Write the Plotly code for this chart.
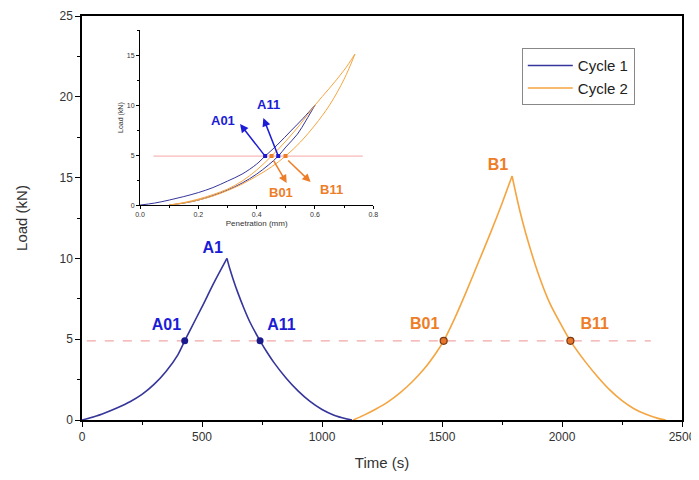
import plotly.graph_objects as go

# ---------------- main chart data ----------------
c1_time = [0, 50, 100, 150, 200, 250, 300, 350, 400, 428, 450, 500, 550, 604,
           615, 630, 650, 675, 700, 742, 775, 800, 850, 900, 950, 1000, 1050, 1100, 1125]
c1_load = [0, 0.2, 0.47, 0.78, 1.13, 1.58, 2.2, 3.0, 4.05, 4.9, 5.55, 7.0, 8.5, 10.0,
           9.4, 8.7, 7.85, 6.9, 6.05, 4.9, 4.1, 3.55, 2.6, 1.8, 1.15, 0.65, 0.3, 0.08, 0]

c2_time = [1130, 1175, 1225, 1275, 1325, 1375, 1425, 1475, 1507, 1550, 1600, 1650, 1700, 1750, 1792,
           1805, 1825, 1850, 1900, 1950, 2000, 2035, 2100, 2150, 2200, 2250, 2300, 2350, 2400, 2432]
c2_load = [0, 0.3, 0.68, 1.12, 1.68, 2.35, 3.15, 4.15, 4.9, 6.2, 7.9, 9.7, 11.5, 13.4, 15.1,
           14.2, 12.9, 11.5, 9.1, 7.2, 5.8, 4.9, 3.55, 2.65, 1.85, 1.2, 0.7, 0.35, 0.1, 0]

ref_time = [20, 2370]
ref_load = [4.9, 4.9]

a_pts_time = [428, 742]
a_pts_load = [4.9, 4.9]
b_pts_time = [1507, 2035]
b_pts_load = [4.9, 4.9]

a_lbl_text = ["A1", "A01", "A11"]
a_lbl_time = [545, 352, 831]
a_lbl_load = [10.6, 5.8, 5.8]
b_lbl_text = ["B1", "B01", "B11"]
b_lbl_time = [1733, 1428, 2136]
b_lbl_load = [15.7, 5.9, 5.9]

# ---------------- inset data ----------------
in_c1_load_pen = [0, 0.05, 0.1, 0.15, 0.2, 0.25, 0.3, 0.35, 0.4, 0.429, 0.47, 0.52, 0.56, 0.6]
in_c1_load_val = [0, 0.2, 0.5, 0.85, 1.25, 1.75, 2.4, 3.1, 4.1, 4.9, 6.0, 7.5, 8.7, 10.0]
in_c1_unl_pen = [0.6, 0.57, 0.54, 0.5, 0.474, 0.44, 0.4, 0.35, 0.3, 0.25, 0.2, 0.15, 0.1]
in_c1_unl_val = [10.0, 8.5, 7.1, 5.8, 4.9, 4.0, 3.1, 2.2, 1.5, 0.95, 0.5, 0.2, 0]

in_c2_load_pen = [0.1, 0.15, 0.2, 0.25, 0.3, 0.35, 0.4, 0.451, 0.5, 0.55, 0.6, 0.65, 0.7, 0.737]
in_c2_load_val = [0, 0.25, 0.6, 1.05, 1.6, 2.4, 3.5, 4.9, 6.4, 8.1, 10.0, 11.7, 13.5, 15.1]
in_c2_unl_pen = [0.737, 0.7, 0.65, 0.6, 0.55, 0.499, 0.45, 0.4, 0.35, 0.3, 0.25, 0.2, 0.15, 0.1]
in_c2_unl_val = [15.1, 12.6, 10.0, 8.0, 6.3, 4.9, 3.8, 2.9, 2.1, 1.45, 0.9, 0.5, 0.2, 0]

in_ref_pen = [0.046, 0.764]
in_ref_val = [4.9, 4.9]

in_a_pen = [0.429, 0.474]
in_a_val = [4.9, 4.9]
in_b_pen = [0.451, 0.499]
in_b_val = [4.9, 4.9]

# arrows: tail (dot) -> head, and label positions
in_arrow_names = ["A01", "A11", "B01", "B11"]
in_arrow_tail_pen = [0.429, 0.474, 0.455, 0.503]
in_arrow_tail_val = [4.9, 4.9, 4.6, 4.6]
in_arrow_head_pen = [0.343, 0.423, 0.503, 0.585]
in_arrow_head_val = [8.1, 8.7, 2.2, 2.3]
in_label_pen = [0.283, 0.44, 0.483, 0.656]
in_label_val = [8.5, 10.1, 1.3, 1.6]

C1 = "#35359b"
C2 = "#f5a540"
A_TXT = "#1c1cd6"
B_TXT = "#ee7d28"
REF = "#f4a6a6"

fig = go.Figure()

fig.add_trace(go.Scatter(x=ref_time, y=ref_load, mode="lines",
                         line=dict(color=REF, width=1.3, dash="dash"), showlegend=False))


def add_cycle(times, loads, name, color):
    # split at the peak so each branch is smooth while the peak stays sharp
    k = loads.index(max(loads))
    fig.add_trace(go.Scatter(x=times[:k + 1], y=loads[:k + 1], mode="lines", name=name,
                             legendgroup=name,
                             line=dict(color=color, width=1.6, shape="spline", smoothing=0.8)))
    fig.add_trace(go.Scatter(x=times[k:], y=loads[k:], mode="lines", name=name,
                             legendgroup=name, showlegend=False,
                             line=dict(color=color, width=1.6, shape="spline", smoothing=0.8)))


add_cycle(c1_time, c1_load, "Cycle 1", C1)
add_cycle(c2_time, c2_load, "Cycle 2", C2)

fig.add_trace(go.Scatter(x=a_pts_time, y=a_pts_load, mode="markers", showlegend=False,
                         marker=dict(color="#1a1a8c", size=7)))
fig.add_trace(go.Scatter(x=b_pts_time, y=b_pts_load, mode="markers", showlegend=False,
                         marker=dict(color="#e8752a", size=7, line=dict(color="#7a3a10", width=1.2))))
fig.add_trace(go.Scatter(x=a_lbl_time, y=a_lbl_load, mode="text",
                         text=["<b>%s</b>" % t for t in a_lbl_text], showlegend=False,
                         textfont=dict(family="Arial", size=16, color=A_TXT)))
fig.add_trace(go.Scatter(x=b_lbl_time, y=b_lbl_load, mode="text",
                         text=["<b>%s</b>" % t for t in b_lbl_text], showlegend=False,
                         textfont=dict(family="Arial", size=16, color=B_TXT)))

# inset traces
ins = dict(xaxis="x2", yaxis="y2", showlegend=False, mode="lines")
fig.add_trace(go.Scatter(x=in_ref_pen, y=in_ref_val, line=dict(color=REF, width=1), **ins))
fig.add_trace(go.Scatter(x=in_c1_load_pen, y=in_c1_load_val,
                         line=dict(color=C1, width=1, shape="spline"), **ins))
fig.add_trace(go.Scatter(x=in_c1_unl_pen, y=in_c1_unl_val,
                         line=dict(color=C1, width=1, shape="spline"), **ins))
fig.add_trace(go.Scatter(x=in_c2_load_pen, y=in_c2_load_val,
                         line=dict(color=C2, width=1, shape="spline"), **ins))
fig.add_trace(go.Scatter(x=in_c2_unl_pen, y=in_c2_unl_val,
                         line=dict(color=C2, width=1, shape="spline"), **ins))
fig.add_trace(go.Scatter(x=in_a_pen, y=in_a_val, mode="markers", xaxis="x2", yaxis="y2",
                         showlegend=False, marker=dict(color="#1a1acc", size=4, symbol="square")))
fig.add_trace(go.Scatter(x=in_b_pen, y=in_b_val, mode="markers", xaxis="x2", yaxis="y2",
                         showlegend=False, marker=dict(color="#ee7d28", size=4, symbol="square")))

annotations = []
for i, name in enumerate(in_arrow_names):
    col = A_TXT if name.startswith("A") else B_TXT
    annotations.append(dict(x=in_arrow_head_pen[i], y=in_arrow_head_val[i],
                            ax=in_arrow_tail_pen[i], ay=in_arrow_tail_val[i],
                            xref="x2", yref="y2", axref="x2", ayref="y2",
                            text="", showarrow=True, arrowhead=2, arrowsize=1.1,
                            arrowwidth=1.5, arrowcolor=col))
    annotations.append(dict(x=in_label_pen[i], y=in_label_val[i], xref="x2", yref="y2",
                            text="<b>%s</b>" % name, showarrow=False,
                            font=dict(family="Arial", size=13, color=col)))

axis_common = dict(showgrid=False, zeroline=False, showline=True, linecolor="black",
                   ticks="outside", tickcolor="black", automargin=False)

# the page body adds an 8px offset, so the figure is sized to fit the window
fig.update_layout(
    width=691, height=472,
    margin=dict(l=74, r=17, t=8, b=60),
    paper_bgcolor="white", plot_bgcolor="white",
    font=dict(family="Arial", color="#333333"),
    xaxis=dict(range=[0, 2500], dtick=500, tick0=0, linewidth=1.5, mirror=True, ticklen=5,
               minor=dict(dtick=250, ticks="outside", ticklen=3, tickcolor="black"),
               ticklabeloverflow="allow",
               tickfont=dict(size=12), title=dict(text="Time (s)", font=dict(size=15), standoff=14),
               **axis_common),
    yaxis=dict(range=[0, 25], dtick=5, tick0=0, linewidth=1.5, mirror=True, ticklen=5,
               minor=dict(dtick=2.5, ticks="outside", ticklen=3, tickcolor="black"),
               ticklabeloverflow="allow",
               tickfont=dict(size=12), title=dict(text="Load (kN)", font=dict(size=15), standoff=28),
               **axis_common),
    xaxis2=dict(domain=[0.0967, 0.4855], anchor="y2", range=[0, 0.8], dtick=0.2, tickformat=".1f",
                linewidth=1, ticklen=3, minor=dict(dtick=0.1, ticks="outside", ticklen=2, tickcolor="black"),
                tickfont=dict(size=7), title=dict(text="Penetration (mm)", font=dict(size=8), standoff=2),
                **axis_common),
    yaxis2=dict(domain=[0.532, 0.965], anchor="x2", range=[0, 17.5], dtick=5,
                linewidth=1, ticklen=3, minor=dict(dtick=2.5, ticks="outside", ticklen=2, tickcolor="black"),
                tickfont=dict(size=7), title=dict(text="Load (kN)", font=dict(size=7), standoff=2),
                **axis_common),
    legend=dict(x=0.733, y=0.92, xanchor="left", yanchor="top", bordercolor="#888888", borderwidth=1,
                bgcolor="white", font=dict(size=15, color="#222222"), tracegroupgap=0, itemwidth=45),
    annotations=annotations,
)

fig.write_html("out.html")
